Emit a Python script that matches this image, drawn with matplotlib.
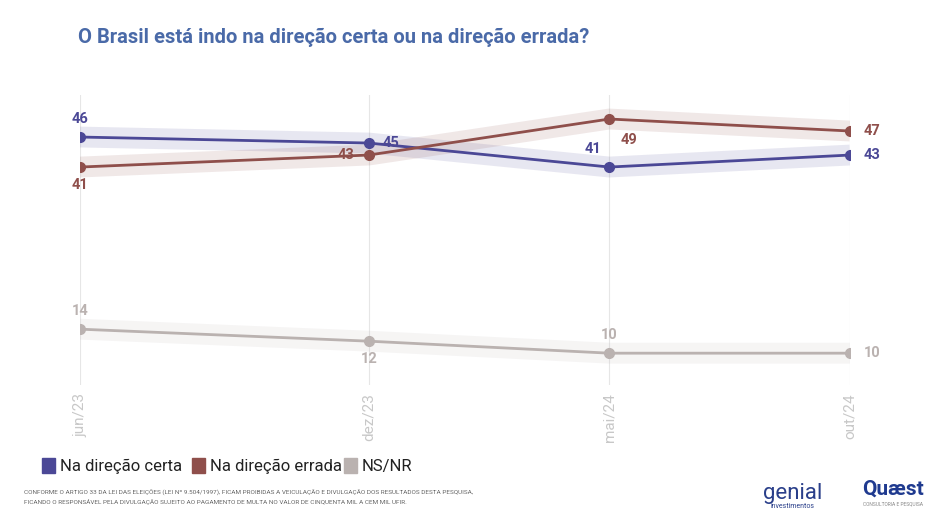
import matplotlib.pyplot as plt

periods = ['jun/23', 'dez/23', 'mai/24', 'out/24']
months = [0, 6, 11, 16]  # months since jun/23
certa = [46, 45, 41, 43]
errada = [41, 43, 49, 47]
nsnr = [14, 12, 10, 10]

c_certa = '#4b4896'
c_errada = '#8f4f4b'
c_nsnr = '#bab2b0'

plt.rcParams['font.family'] = ['Roboto', 'DejaVu Sans']

fig = plt.figure(figsize=(9.4, 5.25), dpi=100)
ax = fig.add_axes([80 / 940, 140 / 525, 770 / 940, 290 / 525])
x = months

for xi in x:
    ax.axvline(xi, color='#e6e6e6', lw=0.8, zorder=0)

series = [(certa, c_certa), (errada, c_errada), (nsnr, c_nsnr)]
for vals, col in series:
    ax.plot(x, vals, color=col, lw=15, alpha=0.13, solid_capstyle='butt', zorder=1)
for vals, col in series:
    ax.plot(x, vals, color=col, lw=2, marker='o', ms=7, zorder=3)

# label offsets in points per point
offs = {
    'certa': [(0, 8), (10, 0), (-12, 8), (10, 0)],
    'errada': [(0, -8), (-10, 0), (14, -10), (10, 0)],
    'nsnr': [(0, 8), (0, -8), (0, 8), (10, 0)],
}
for key, vals, col in [('certa', certa, c_certa), ('errada', errada, c_errada), ('nsnr', nsnr, c_nsnr)]:
    for xi, v, off in zip(x, vals, offs[key]):
        ha = 'center' if off[0] == 0 else ('left' if off[0] > 0 else 'right')
        if off[1] > 0:
            va = 'bottom'
        elif off[1] < 0:
            va = 'top'
        else:
            va = 'center'
        if abs(off[0]) > 10:
            ha = 'center'
        ax.annotate(str(v), (xi, v), xytext=off, textcoords='offset points',
                    ha=ha, va=va, color=col, fontsize=10.5, fontweight='bold', zorder=4)

ax.set_xlim(0, 16)
ax.set_ylim(4.7, 53)
ax.set_xticks(x)
ax.set_xticklabels(periods, rotation=90, color='#c8c8c8', fontsize=11)
ax.tick_params(length=0, pad=6)
ax.set_yticks([])
for s in ax.spines.values():
    s.set_visible(False)
ax.set_facecolor('none')

fig.text(78 / 940, 1 - 37 / 525, 'O Brasil está indo na direção certa ou na direção errada?',
         color='#4a6aa8', fontsize=14.5, fontweight='bold', va='center')

# legend
lx = 42
for label, col, w in [('Na direção certa', c_certa, 150), ('Na direção errada', c_errada, 152), ('NS/NR', c_nsnr, 70)]:
    fig.patches.append(plt.Rectangle((lx / 940, 1 - 473 / 525), 13 / 940, 15 / 525,
                                     transform=fig.transFigure, color=col))
    fig.text((lx + 18) / 940, 1 - 466 / 525, label, fontsize=12, va='center', color='#222222')
    lx += w

fig.text(24 / 940, 1 - 497 / 525,
         'CONFORME O ARTIGO 33 DA LEI DAS ELEIÇÕES (LEI Nº 9.504/1997), FICAM PROIBIDAS A VEICULAÇÃO E DIVULGAÇÃO DOS RESULTADOS DESTA PESQUISA,\n'
         'FICANDO O RESPONSÁVEL PELA DIVULGAÇÃO SUJEITO AO PAGAMENTO DE MULTA NO VALOR DE CINQUENTA MIL A CEM MIL UFIR.',
         fontsize=4.6, color='#666666', va='center', linespacing=1.6)

fig.text(793 / 940, 1 - 493 / 525, 'genial', fontsize=16, color='#2a3f8a', ha='center', va='center')
fig.text(793 / 940, 1 - 506 / 525, 'investimentos', fontsize=5, color='#2a3f8a', ha='center', va='center')
fig.text(893 / 940, 1 - 489 / 525, 'Quæst', fontsize=15, color='#1f3a8f', fontweight='bold', ha='center', va='center')
fig.text(893 / 940, 1 - 504 / 525, 'CONSULTORIA E PESQUISA', fontsize=3.5, color='#888888', ha='center', va='center')

fig.savefig('out.png', dpi=100)
